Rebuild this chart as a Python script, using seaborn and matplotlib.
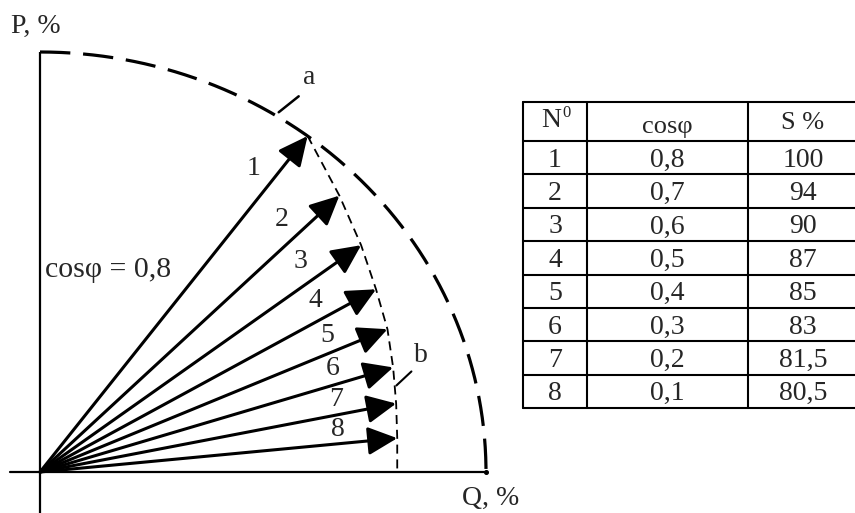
import numpy as np
import pandas as pd
import matplotlib
matplotlib.use("Agg")
import matplotlib.pyplot as plt
import seaborn as sns

# Power vectors: number, power factor and apparent power (% of rated)
vector_no = [1, 2, 3, 4, 5, 6, 7, 8]
cos_phi = [0.8, 0.7, 0.6, 0.5, 0.4, 0.3, 0.2, 0.1]
s_pct = [100, 94, 90, 87, 85, 83, 81.5, 80.5]

col_headers = ["N", "cosφ", "S %"]
p_label = "P, %"
q_label = "Q, %"
ref_label = "cosφ = 0,8"
point_a = "a"
point_b = "b"


def comma(v):
    """Decimal comma formatting, integers without fraction."""
    if float(v).is_integer():
        return str(int(v))
    return f"{v}".replace(".", ",")


sns.set_theme(style="white")
plt.rcParams["font.family"] = ["Liberation Serif", "DejaVu Serif"]

W, H, DPI = 855, 513, 100
fig = plt.figure(figsize=(W / DPI, H / DPI), dpi=DPI)
fig.patch.set_facecolor("white")

# Diagram frame: origin position and pixels per percent on each axis
OX, OY = 40, 472
SX, SY = 4.46, 4.20

ax = fig.add_axes([0, 0, 1, 1])
ax.set_xlim(-OX / SX, (W - OX) / SX)
ax.set_ylim((OY - H) / SY, OY / SY)
ax.axis("off")

df = pd.DataFrame({"n": vector_no, "cos": cos_phi, "s": s_pct})
df["p"] = df["s"] * df["cos"]
df["q"] = df["s"] * np.sqrt(1 - df["cos"] ** 2)
s_max = df["s"].max()

# P and Q axes
ax.plot([0, 0], [s_max, (OY - H) / SY], color="black", lw=1.6,
        solid_capstyle="butt")
ax.plot([(10 - OX) / SX, s_max], [0, 0], color="black", lw=1.6)
ax.plot([s_max], [0], "o", ms=2.6, color="black")

# Rated power circle (S = 100 %)
theta = np.linspace(np.pi / 2, 0, 400)
arc = pd.DataFrame({"q": s_max * np.cos(theta), "p": s_max * np.sin(theta)})
sns.lineplot(data=arc, x="q", y="p", sort=False, estimator=None, ax=ax,
             color="black", lw=2.3, linestyle=(0, (9.5, 4.0)))

# Locus of the vector tips, dropped to the Q axis
locus = pd.DataFrame({
    "q": list(df["q"]) + [df["q"].iloc[-1]],
    "p": list(df["p"]) + [0.0],
})
sns.lineplot(data=locus, x="q", y="p", sort=False, estimator=None, ax=ax,
             color="black", lw=1.3, linestyle=(0, (5.0, 3.2)))

# Vectors
for r in df.itertuples():
    ax.annotate("", xy=(r.q, r.p), xytext=(0, 0),
                arrowprops=dict(arrowstyle="-|>,head_length=0.5,head_width=0.24",
                                mutation_scale=36, lw=2.2, color="black",
                                shrinkA=0, shrinkB=0))

# Vector numbers: set back from each tip, between the vector and the one above
ang = np.arctan2(SY * df["p"].to_numpy(), SX * df["q"].to_numpy())
length = np.hypot(SY * df["p"].to_numpy(), SX * df["q"].to_numpy())
for k, n in enumerate(vector_no):
    R = length[k] - 58
    max_off = 22.0
    if k == 0:
        a = ang[k] + np.arcsin(max_off / R)
    else:
        half = (ang[k - 1] - ang[k]) / 2
        a = ang[k] + min(half, np.arcsin(max_off / R))
    ax.text(R * np.cos(a) / SX, R * np.sin(a) / SY, str(n),
            ha="center", va="center", fontsize=20)

# Point a on the rated circle
ta = np.deg2rad(58)
pa = (1.01 * s_max * np.cos(ta), 1.01 * s_max * np.sin(ta))
ax.annotate("", xy=pa, xytext=(14.4, 11.5), textcoords="offset points",
            arrowprops=dict(arrowstyle="-", lw=1.8, color="black",
                            shrinkA=0, shrinkB=0))
ax.annotate(point_a, xy=pa, xytext=(22.3, 25.0), textcoords="offset points",
            ha="center", va="center", fontsize=20)

# Point b on the locus between vectors 6 and 7
pb = ((df["q"].iloc[5] + df["q"].iloc[6]) / 2 + 0.4,
      (df["p"].iloc[5] + df["p"].iloc[6]) / 2)
ax.annotate("", xy=pb, xytext=(10.8, 10.1), textcoords="offset points",
            arrowprops=dict(arrowstyle="-", lw=1.5, color="black",
                            shrinkA=0, shrinkB=0))
ax.annotate(point_b, xy=pb, xytext=(18.0, 21.5), textcoords="offset points",
            ha="center", va="center", fontsize=20)

# Overlay in pixel units for axis titles and the table
ov = fig.add_axes([0, 0, 1, 1])
ov.set_xlim(0, W)
ov.set_ylim(H, 0)
ov.axis("off")
ov.patch.set_alpha(0)

ov.text(11, 33, p_label, ha="left", va="baseline", fontsize=20)
ov.text(462, 505, q_label, ha="left", va="baseline", fontsize=20)
ov.text(45, 277, ref_label, ha="left", va="baseline", fontsize=21.5)

# Table grid
t_left, c1, c2, t_right = 523, 587, 748, W
t_top, h_bot = 102, 141
row_h = (408 - h_bot) / len(vector_no)
row_lines = [t_top, h_bot] + [h_bot + row_h * (i + 1) for i in range(len(vector_no))]
for y in row_lines:
    ov.plot([t_left, t_right], [y, y], color="black", lw=1.5)
for x in (t_left, c1, c2):
    ov.plot([x, x], [t_top, row_lines[-1]], color="black", lw=1.5)

cx = [(t_left + c1) / 2, (c1 + c2) / 2, (c2 + 858) / 2]
# Header
ov.text(cx[0] - 4, 127, col_headers[0], ha="center", va="baseline", fontsize=20)
ov.text(cx[0] + 7, 117, "0", ha="left", va="baseline", fontsize=12)
ov.text(cx[1], 133, col_headers[1], ha="center", va="baseline", fontsize=19)
ov.text(cx[2], 129, col_headers[2], ha="center", va="baseline", fontsize=19)

# Rows
for i, (n, c, s) in enumerate(zip(vector_no, cos_phi, s_pct)):
    yb = h_bot + row_h * (i + 0.5) + 9
    ov.text(cx[0], yb, str(n), ha="center", va="baseline", fontsize=20)
    ov.text(cx[1], yb, comma(c), ha="center", va="baseline", fontsize=20)
    ov.text(cx[2], yb, comma(s), ha="center", va="baseline", fontsize=20)

fig.savefig("out.png", dpi=DPI, facecolor="white")
